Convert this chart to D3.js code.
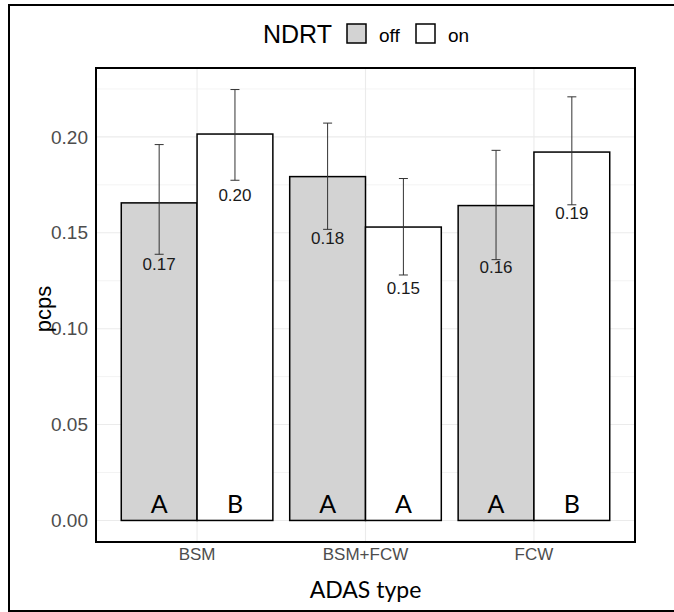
<!DOCTYPE html>
<html>
<head>
<meta charset="utf-8">
<script src="https://cdn.jsdelivr.net/npm/d3@7"></script>
<style>
  body { margin: 0; background: #fff; }
  svg text { font-family: "Liberation Sans", Arial, sans-serif; }
</style>
</head>
<body>
<div id="chart"></div>
<script>
var categories = ["BSM", "BSM+FCW", "FCW"];
var ndrt = ["off", "on"];
var meanOff = [0.1656, 0.1793, 0.1642];
var meanOn = [0.2015, 0.1530, 0.1921];
var lowOff = [0.1388, 0.1518, 0.1360];
var highOff = [0.1960, 0.2072, 0.1930];
var lowOn = [0.1774, 0.1280, 0.1646];
var highOn = [0.2247, 0.1783, 0.2209];
var groupOff = ["A", "A", "A"];
var groupOn = ["B", "A", "B"];
var yTicks = [0, 0.05, 0.10, 0.15, 0.20];

var data = [];
categories.forEach(function (c, i) {
    data.push({ cat: c, ndrt: "off", mean: meanOff[i], lo: lowOff[i], hi: highOff[i], grp: groupOff[i] });
    data.push({ cat: c, ndrt: "on", mean: meanOn[i], lo: lowOn[i], hi: highOn[i], grp: groupOn[i] });
});

var W = 674, H = 612;
var margin = { top: 68, right: 39, bottom: 70, left: 96 },
    width = W - margin.left - margin.right,
    height = H - margin.top - margin.bottom;

var root = d3.select("#chart").append("svg")
    .attr("width", W).attr("height", H);

// outer frame
root.append("rect")
    .attr("x", 9).attr("y", 5)
    .attr("width", 700).attr("height", 606)
    .attr("fill", "none").attr("stroke", "#000").attr("stroke-width", 2);

var svg = root.append("g")
    .attr("transform", "translate(" + margin.left + "," + margin.top + ")");

var yMax = d3.max(data, d => d.hi);
var pad = yMax * 0.05;
var y = d3.scaleLinear().domain([-pad, yMax + pad]).range([height, 0]);

// discrete x with ggplot-like 0.6 expansion
var unit = width / 3.2;
var xc = d => unit * (0.6 + categories.indexOf(d));
var barW = unit * 0.45;
var xs = d3.scaleBand().domain(ndrt).range([-barW, barW]);

// grid: minor then major
d3.range(0.025, yMax + pad, 0.05).forEach(function (v) {
    svg.append("line").attr("x1", 0).attr("x2", width)
        .attr("y1", y(v)).attr("y2", y(v))
        .attr("stroke", "#ebebeb").attr("stroke-width", 0.6);
});
svg.append("g").selectAll("line").data(yTicks).join("line")
    .attr("x1", 0).attr("x2", width)
    .attr("y1", d => y(d)).attr("y2", d => y(d))
    .attr("stroke", "#ebebeb").attr("stroke-width", 1.1);
svg.append("g").selectAll("line").data(categories).join("line")
    .attr("x1", d => xc(d)).attr("x2", d => xc(d))
    .attr("y1", 0).attr("y2", height)
    .attr("stroke", "#ebebeb").attr("stroke-width", 1.1);

// y axis labels
var yAxis = svg.append("g")
    .call(d3.axisLeft(y).tickValues(yTicks).tickFormat(d3.format(".2f")).tickSize(0).tickPadding(8));
yAxis.select(".domain").remove();
yAxis.selectAll("text").attr("fill", "#4d4d4d")
    .style("font-family", "'Liberation Sans', Arial, sans-serif").style("font-size", "19px");

// x axis labels
var xAxis = svg.append("g")
    .attr("transform", "translate(0," + height + ")");
xAxis.selectAll("text").data(categories).join("text")
    .attr("x", d => xc(d)).attr("y", 18)
    .attr("text-anchor", "middle")
    .attr("fill", "#4d4d4d").style("font-size", "17px")
    .text(d => d);

// bars
svg.selectAll("rect.bar")
    .data(data)
    .join("rect")
    .attr("class", "bar")
    .attr("x", d => xc(d.cat) + xs(d.ndrt))
    .attr("y", d => y(d.mean))
    .attr("width", xs.bandwidth())
    .attr("height", d => y(0) - y(d.mean))
    .attr("fill", d => d.ndrt == "off" ? "#d3d3d3" : "#ffffff")
    .attr("stroke", "#000").attr("stroke-width", 1.5);

// error bars
var eb = svg.append("g").selectAll("g").data(data).join("g")
    .attr("transform", d => "translate(" + (xc(d.cat) + xs(d.ndrt) + xs.bandwidth() / 2) + ",0)");
eb.append("line").attr("y1", d => y(d.lo)).attr("y2", d => y(d.hi))
    .attr("stroke", "#333").attr("stroke-width", 1);
eb.append("line").attr("x1", -4.5).attr("x2", 4.5)
    .attr("y1", d => y(d.hi)).attr("y2", d => y(d.hi))
    .attr("stroke", "#333").attr("stroke-width", 1);
eb.append("line").attr("x1", -4.5).attr("x2", 4.5)
    .attr("y1", d => y(d.lo)).attr("y2", d => y(d.lo))
    .attr("stroke", "#333").attr("stroke-width", 1);

// value labels
eb.append("text")
    .attr("y", d => y(d.mean) + 67)
    .attr("text-anchor", "middle")
    .attr("fill", "#1a1a1a").style("font-size", "17px")
    .text(d => d3.format(".2f")(d.mean));

// group letters
eb.append("text")
    .attr("y", y(0) - 7)
    .attr("text-anchor", "middle")
    .attr("fill", "#000")
    .style("font-family", "Lato, 'Open Sans', sans-serif")
    .style("font-size", "25px")
    .text(d => d.grp);

// panel border
svg.append("rect").attr("x", 0).attr("y", 0)
    .attr("width", width).attr("height", height)
    .attr("fill", "none").attr("stroke", "#000").attr("stroke-width", 2);

// axis titles
root.append("text")
    .attr("x", margin.left + width / 2).attr("y", 598)
    .attr("text-anchor", "middle")
    .style("font-family", "Lato, 'Open Sans', sans-serif")
    .style("font-size", "23px")
    .text("ADAS type");
root.append("text")
    .attr("transform", "translate(51,309) rotate(-90)")
    .attr("text-anchor", "middle")
    .style("font-size", "22px")
    .text("pcps");

// legend
var leg = root.append("g").attr("transform", "translate(263,0)");
leg.append("text").attr("x", 0).attr("y", 43).style("font-size", "25px").text("NDRT");
var keys = leg.selectAll("g.key").data(ndrt).join("g")
    .attr("transform", (d, i) => "translate(" + (84 + i * 69) + ",0)");
keys.append("rect").attr("x", 0).attr("y", 24).attr("width", 19).attr("height", 19)
    .attr("fill", d => d == "off" ? "#d3d3d3" : "#fff")
    .attr("stroke", "#000").attr("stroke-width", 1.5);
keys.append("text").attr("x", 32).attr("y", 42).style("font-size", "19px").text(d => d);
</script>
</body>
</html>
